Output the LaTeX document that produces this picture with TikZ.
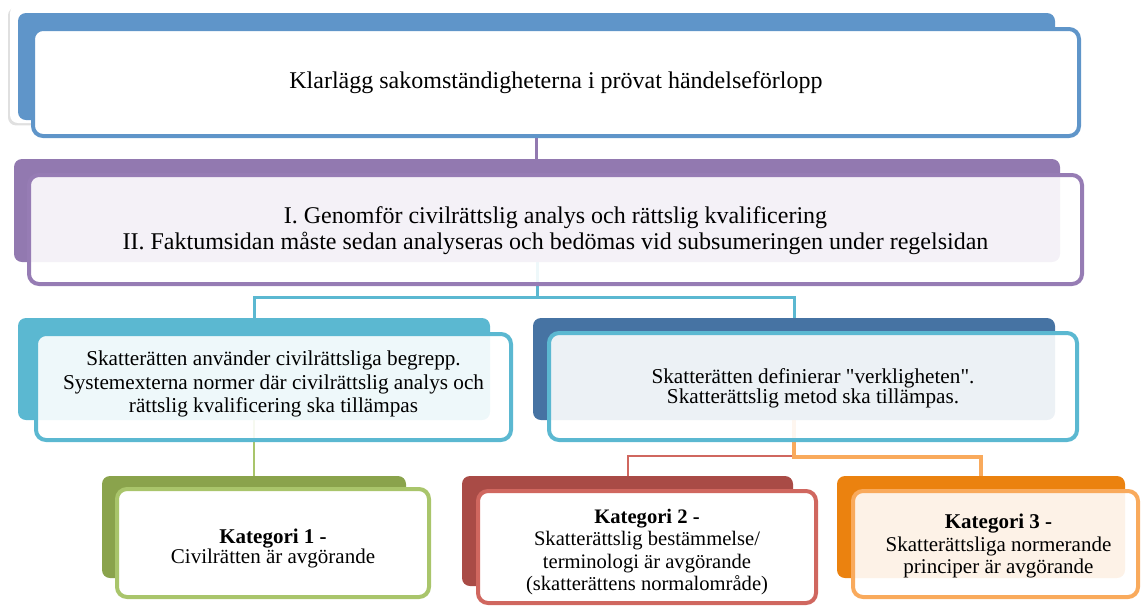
\documentclass[tikz,border=0pt]{standalone}
\usepackage{fontspec}
\setmainfont{Liberation Serif}[Ligatures=TeXOff]
\usetikzlibrary{fit,backgrounds,shadows}
\definecolor{topblue}{HTML}{5F95C9}
\definecolor{lilac}{HTML}{9279B0}
\definecolor{lilacline}{HTML}{967CB4}
\definecolor{sky}{HTML}{5BB8D1}
\definecolor{deepblue}{HTML}{4673A3}
\definecolor{grass}{HTML}{8AA34C}
\definecolor{grassline}{HTML}{A9C56B}
\definecolor{brick}{HTML}{A94B46}
\definecolor{brickline}{HTML}{D0675F}
\definecolor{amber}{HTML}{EB820F}
\definecolor{amberline}{HTML}{F9AA5C}
\lineskiplimit=-100pt

\begin{document}
\begin{tikzpicture}[x=0.5pt,y=-0.5pt]
\tikzstyle{back}=[rectangle, rounded corners=4pt, inner sep=0pt]
\tikzstyle{front}=[rectangle, rounded corners=5pt, inner sep=0pt, line width=2pt, fill=white]
\tikzstyle{see}=[fill opacity=0.9]
\tikzstyle{txt}=[align=center, inner sep=0pt]
\tikzstyle{connect}=[line width=1.5pt]
  \useasboundingbox (0,0) rectangle (1141,606);
  \node[back, fill=white, general shadow={fill=black, opacity=0.12, shadow xshift=-1pt, shadow yshift=-1.2pt}, fit={(10,5) (1063,123)}] (topglow) {};
  \node[back, fill=topblue, fit={(18,13) (1055,120)}] (topback) {};
  \node[front, draw=topblue, fit={(33,29) (1079,136)}] (top) {};
  \node[txt, font=\fontsize{12}{14}\selectfont] (toptext) at (top) {Klarlägg sakomständigheterna i prövat händelseförlopp};
  \node[back, fill=lilac, fit={(14,159) (1060,262)}] (purpleback) {};
  \node[front, see, draw=lilacline, fit={(29,175) (1082,284)}] (purple) {};
  \node[txt, font=\fontsize{12}{13}\selectfont, yshift=-0.5pt] (purpletext) at (purple) {I. Genomför civilrättslig analys och rättslig kvalificering\\II. Faktumsidan måste sedan analyseras och bedömas vid subsumeringen under regelsidan};
  \node[back, fill=sky, fit={(18,318) (490,420)}] (leftback) {};
  \node[front, see, draw=sky, fit={(36,334) (511,440)}] (left) {};
  \node[txt, font=\fontsize{10.6}{11.6}\selectfont, yshift=1.5pt] (lefttext) at (left) {Skatterätten använder civilrättsliga begrepp.\\Systemexterna normer där civilrättslig analys och\\rättslig kvalificering ska tillämpas};
  \node[back, fill=deepblue, fit={(533,318) (1055,420)}] (rightback) {};
  \node[front, see, draw=sky, fit={(549,333) (1077,440)}] (right) {};
  \node[txt, font=\fontsize{10.6}{9.8}\selectfont, yshift=-1pt] (righttext) at (right) {Skatterätten definierar "verkligheten".\\Skatterättslig metod ska tillämpas.};
  \node[back, fill=grass, fit={(102,476) (406,578)}] (kat1back) {};
  \node[front, draw=grassline, fit={(117,489) (429,597)}] (kat1) {};
  \node[txt, font=\fontsize{10.5}{10.2}\selectfont, yshift=-2.8pt] (kat1text) at (kat1) {\textbf{Kategori 1 -}\\Civilrätten är avgörande};
  \node[back, fill=brick, fit={(462,476) (793,586)}] (kat2back) {};
  \node[front, draw=brickline, fit={(478,491) (816,603)}] (kat2) {};
  \node[txt, font=\fontsize{10.3}{11.2}\selectfont, yshift=-2.5pt] (kat2text) at (kat2) {\textbf{Kategori 2 -}\\Skatterättslig bestämmelse/\\terminologi är avgörande\\(skatterättens normalområde)};
  \node[back, fill=amber, fit={(837,476) (1125,578)}] (kat3back) {};
  \node[front, see, draw=amberline, fit={(853,491) (1138,597)}] (kat3) {};
  \node[txt, font=\fontsize{10.5}{11.3}\selectfont, xshift=1.5pt, yshift=-1pt] (kat3text) at (kat3) {\textbf{Kategori 3 -}\\Skatterättsliga normerande\\principer är avgörande};
  \begin{pgfonlayer}{background}
  \draw[connect, lilac] (topback.south) -- (topback.south |- purpleback.north);
  \draw[connect, sky] (purpleback.south) -- ++(0,35) -| (leftback.north);
  \draw[connect, sky] (purpleback.south) -- ++(0,35) -| (rightback.north);
  \draw[grassline, line width=0.8pt] (leftback.south) -- (leftback.south |- kat1back.north);
  \draw[brickline, line width=1pt] (rightback.south) -- ++(0,36) -| (kat2back.north);
  \draw[amberline, line width=2pt] (rightback.south) -- ++(0,37) -| (kat3back.north);
  \end{pgfonlayer}
\end{tikzpicture}
\end{document}
